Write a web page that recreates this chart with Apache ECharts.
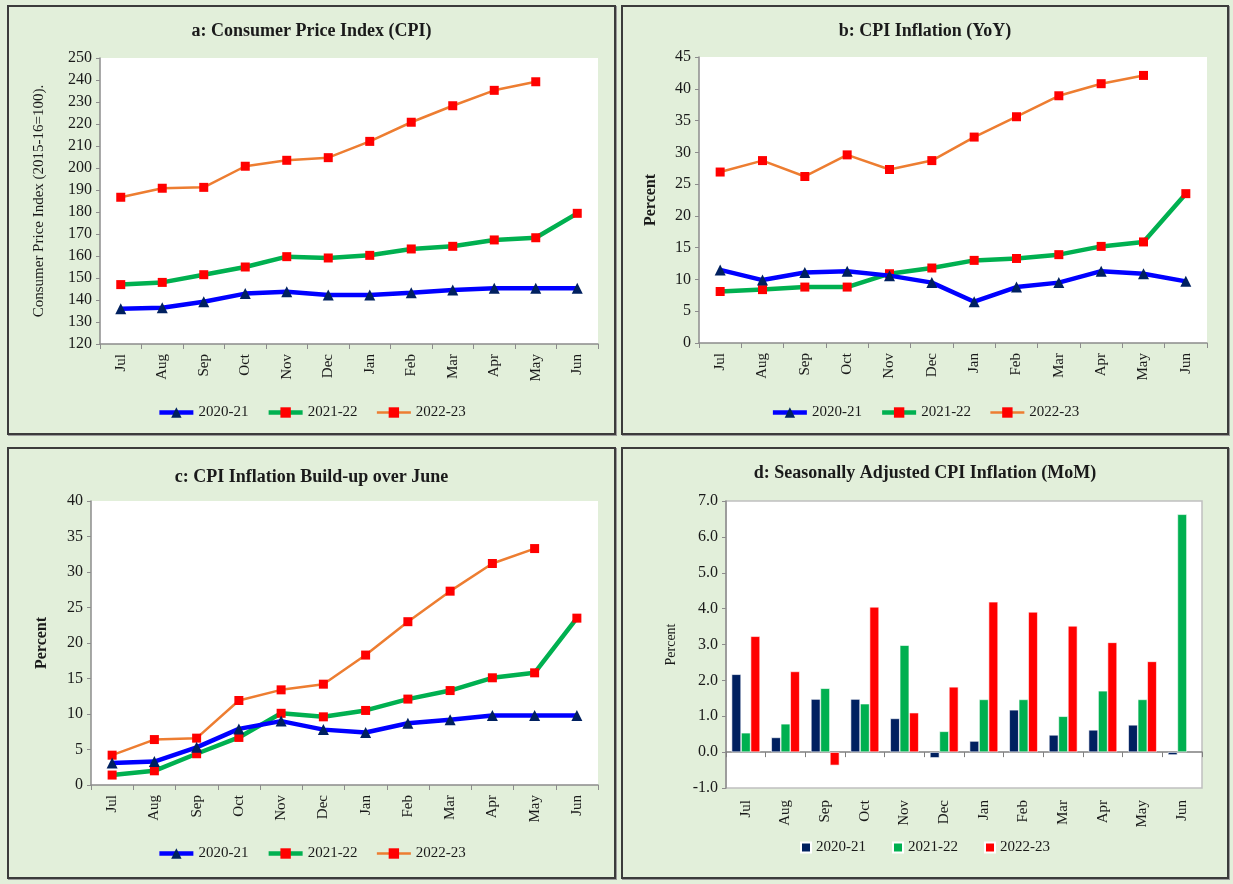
<!DOCTYPE html>
<html>
<head>
<meta charset="utf-8">
<script src="https://cdn.jsdelivr.net/npm/echarts@6/dist/echarts.min.js"></script>
<style>
html,body{margin:0;padding:0;background:#E2EFDA;}
body{width:1233px;height:884px;position:relative;overflow:hidden;}
.panel{position:absolute;box-sizing:border-box;border:2px solid #3b3b3b;background:#E2EFDA;box-shadow:1px 1px 0 #9a9a9a;}
</style>
</head>
<body>
<div id="pa" class="panel" style="left:7px;top:5px;width:609px;height:430px;"></div>
<div id="pb" class="panel" style="left:621px;top:5px;width:608px;height:430px;"></div>
<div id="pc" class="panel" style="left:7px;top:447px;width:609px;height:432px;"></div>
<div id="pd" class="panel" style="left:621px;top:447px;width:608px;height:432px;"></div>
<script>
const months = ['Jul','Aug','Sep','Oct','Nov','Dec','Jan','Feb','Mar','Apr','May','Jun'];
const seriesNames = ['2020-21','2021-22','2022-23'];

// a: CPI index (2015-16=100)
const cpi_2020_21 = [136.0,136.5,139.2,142.9,143.8,142.3,142.3,143.3,144.5,145.3,145.3,145.3];
const cpi_2021_22 = [147.0,148.0,151.5,155.0,159.7,159.1,160.3,163.2,164.4,167.3,168.3,179.4];
const cpi_2022_23 = [186.7,190.8,191.2,200.8,203.5,204.7,212.1,220.8,228.3,235.3,239.2];

// b: CPI inflation YoY (%)
const yoy_2020_21 = [11.5,9.9,11.1,11.3,10.6,9.5,6.5,8.8,9.5,11.3,10.9,9.7];
const yoy_2021_22 = [8.1,8.4,8.8,8.8,10.9,11.8,13.0,13.3,13.9,15.2,15.9,23.5];
const yoy_2022_23 = [26.9,28.7,26.2,29.6,27.3,28.7,32.4,35.6,38.9,40.8,42.1];

// c: CPI inflation build-up over June (%)
const bu_2020_21 = [3.1,3.3,5.3,7.9,9.0,7.8,7.4,8.7,9.2,9.8,9.8,9.8];
const bu_2021_22 = [1.4,2.0,4.4,6.7,10.1,9.6,10.5,12.1,13.3,15.1,15.8,23.5];
const bu_2022_23 = [4.2,6.4,6.6,11.9,13.4,14.2,18.3,23.0,27.3,31.2,33.3];

// d: seasonally adjusted CPI inflation MoM (%)
const mom_2020_21 = [2.17,0.41,1.48,1.48,0.94,-0.16,0.31,1.18,0.48,0.62,0.76,-0.08];
const mom_2021_22 = [0.54,0.79,1.78,1.35,2.98,0.58,1.47,1.47,1.00,1.71,1.47,6.63];
const mom_2022_23 = [3.23,2.25,-0.37,4.05,1.10,1.82,4.19,3.91,3.52,3.06,2.53];

const titles = ['a: Consumer Price Index (CPI)','b: CPI Inflation (YoY)','c: CPI Inflation Build-up over June','d: Seasonally Adjusted CPI Inflation (MoM)'];
const yNames = ['Consumer Price Index (2015-16=100).','Percent','Percent','Percent'];

const FONT = 'Liberation Serif';
const TXT = '#1a1a1a';
const AX = '#8c8c8c';

const lineStyles = [
  {color:'#0000FF', width:4.5, symbol:'triangle', size:11, mcolor:'#002060'},
  {color:'#00B050', width:4.5, symbol:'rect', size:9, mcolor:'#FF0000'},
  {color:'#ED7D31', width:2.5, symbol:'rect', size:9, mcolor:'#FF0000'}
];

function lineSeries(data) {
  return data.map((d,i)=>({
    name: seriesNames[i], type:'line', data:d,
    symbol: lineStyles[i].symbol, symbolSize: lineStyles[i].size, showSymbol:true,
    lineStyle:{color:lineStyles[i].color, width:lineStyles[i].width},
    itemStyle:{color:lineStyles[i].mcolor, borderWidth:0},
    emphasis:{disabled:true}, animation:false, z: 3-i
  }));
}

function lineOption(o) {
  return {
    animation:false,
    title:{text:o.title, left:'center', top:o.titleTop, textStyle:{fontFamily:FONT, fontSize:18, fontWeight:'bold', color:TXT}},
    legend:{data:seriesNames.map((n,i)=>({name:n, lineStyle:{width:lineStyles[i].width, color:lineStyles[i].color}})),
      left:'center', top:o.legendTop, itemWidth:34, itemHeight:13, itemGap:18,
      textStyle:{fontFamily:FONT, fontSize:15, color:TXT}},
    grid:{left:o.grid[0], top:o.grid[1], width:o.grid[2], height:o.grid[3], show:true, backgroundColor:'#ffffff', borderWidth:0},
    xAxis:{type:'category', data:months, boundaryGap:true,
      axisLine:{lineStyle:{color:AX, width:1.5}},
      axisTick:{show:true, length:5, lineStyle:{color:AX}},
      axisLabel:{rotate:90, margin:10, fontFamily:FONT, fontSize:15, color:TXT}},
    yAxis:{type:'value', min:o.min, max:o.max, interval:o.interval,
      name:o.yName, nameLocation:'middle', nameGap:o.nameGap,
      nameTextStyle:{fontFamily:FONT, fontSize:o.nameSize, fontWeight:o.nameBold?'bold':'normal', color:TXT},
      splitLine:{show:false},
      axisLine:{show:true, lineStyle:{color:AX, width:1.5}},
      axisTick:{show:true, inside:false, length:4, lineStyle:{color:AX}},
      axisLabel:{margin:8, fontFamily:FONT, fontSize:16, color:TXT}},
    series: lineSeries(o.data)
  };
}

const ca = echarts.init(document.getElementById('pa'));
ca.setOption(lineOption({title:titles[0], titleTop:10, legendTop:393, grid:[91,51,498,286],
  min:120, max:250, interval:10, yName:yNames[0], nameGap:53, nameSize:15, nameBold:false,
  data:[cpi_2020_21, cpi_2021_22, cpi_2022_23]}));

const cb = echarts.init(document.getElementById('pb'));
cb.setOption(lineOption({title:titles[1], titleTop:10, legendTop:393, grid:[76,50,508,286],
  min:0, max:45, interval:5, yName:yNames[1], nameGap:40, nameSize:16, nameBold:true,
  data:[yoy_2020_21, yoy_2021_22, yoy_2022_23]}));

const cc = echarts.init(document.getElementById('pc'));
cc.setOption(lineOption({title:titles[2], titleTop:14, legendTop:392, grid:[82,52,507,284],
  min:0, max:40, interval:5, yName:yNames[2], nameGap:41, nameSize:16, nameBold:true,
  data:[bu_2020_21, bu_2021_22, bu_2022_23]}));

const cd = echarts.init(document.getElementById('pd'));
const barColors = ['#002060','#00B050','#FF0000'];
cd.setOption({
  animation:false,
  title:{text:titles[3], left:'center', top:10, textStyle:{fontFamily:FONT, fontSize:18, fontWeight:'bold', color:TXT}},
  legend:{data:seriesNames, left:'center', top:386, itemWidth:10, itemHeight:10, itemGap:26, icon:'rect',
    textStyle:{fontFamily:FONT, fontSize:15, color:TXT}},
  grid:{left:103, top:52, width:476, height:287, show:true, backgroundColor:'#ffffff', borderColor:'#c0c0c0', borderWidth:1.5},
  xAxis:[
    {type:'category', data:months, position:'bottom',
      axisLine:{onZero:false, show:false}, axisTick:{show:false},
      axisLabel:{rotate:90, margin:12, fontFamily:FONT, fontSize:15, color:TXT}},
    {type:'category', data:months, position:'bottom',
      axisLine:{onZero:true, show:true, lineStyle:{color:'#7f7f7f', width:1.5}},
      axisTick:{show:true, length:5, lineStyle:{color:'#7f7f7f'}},
      axisLabel:{show:false}}
  ],
  yAxis:{type:'value', min:-1, max:7, interval:1, name:yNames[3], nameLocation:'middle', nameGap:48,
    nameTextStyle:{fontFamily:FONT, fontSize:14, color:TXT},
    splitLine:{show:false},
    axisLine:{show:true, lineStyle:{color:AX, width:1.5}},
    axisTick:{show:true, length:4, lineStyle:{color:AX}},
    axisLabel:{margin:8, fontFamily:FONT, fontSize:16, color:TXT, formatter:v=>v.toFixed(1)}},
  series:[mom_2020_21, mom_2021_22, mom_2022_23].map((d,i)=>({
    name:seriesNames[i], type:'bar', data:d, xAxisIndex:0, barWidth:9.5, barGap:'0%',
    itemStyle:{color:barColors[i], borderColor:'#ffffff', borderWidth:0.6},
    emphasis:{disabled:true}
  }))
});
</script>
</body>
</html>
